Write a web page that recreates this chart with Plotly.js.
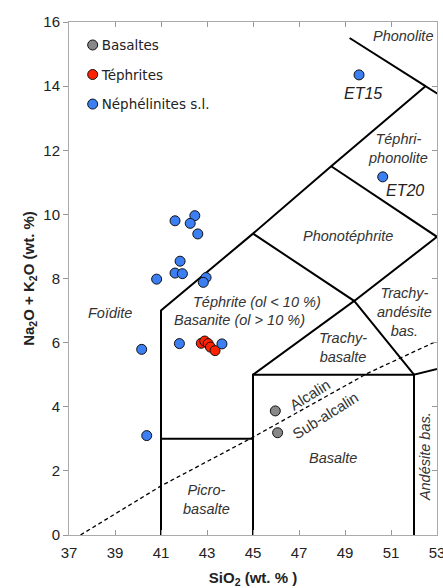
<!DOCTYPE html>
<html><head><meta charset="utf-8">
<script src="https://cdn.plot.ly/plotly-3.0.1.min.js"></script>
<style>html,body{margin:0;padding:0;background:#fff}#chart{width:443px;height:588px}</style>
</head><body><div id="chart"></div>
<script>
// Sample data (SiO2, Na2O+K2O)
const basaltesSiO2 = [45.97, 46.07];
const basaltesAlk  = [3.87, 3.19];
const tephritesSiO2 = [42.75, 42.9, 43.05, 43.15, 43.35];
const tephritesAlk  = [5.98, 6.05, 5.97, 5.86, 5.75];
const nephSiO2 = [41.61, 42.47, 42.27, 42.60, 41.83, 41.61, 41.93, 40.81, 42.96, 42.84, 40.16, 41.80, 43.65, 40.38, 49.61, 50.64];
const nephAlk  = [9.80, 9.96, 9.72, 9.39, 8.54, 8.17, 8.15, 7.98, 8.03, 7.88, 5.79, 5.97, 5.96, 3.10, 14.35, 11.17];

// TAS field boundaries (null separates segments)
const tasX = [41,41,45,48.4,52.5,57.6,null, 49.2,52.5,null, 48.4,53,null, 45,49.4,53,null, 45,49.4,52,57,null, 45,45,52,52,null, 41,45];
const tasY = [0,7,9.4,11.5,14,11.7,null, 15.5,14,null, 11.5,9.3,null, 9.4,7.3,9.3,null, 5,7.3,5,5.9,null, 0,5,5,0,null, 3,3];
// Alkaline / sub-alkaline divide
const divX = [37.5, 41, 45, 50, 53];
const divY = [0, 1.53, 3.05, 5.05, 6.05];

// Axis ticks
const xTicks = [37, 39, 41, 43, 45, 47, 49, 51, 53];
const yTicks = [0, 2, 4, 6, 8, 10, 12, 14, 16];

// Field labels
const fieldText = ['Phonolite','Téphri-<br>phonolite','Phonotéphrite','Téphrite (ol < 10 %)','Basanite (ol > 10 %)','Foïdite','Trachy-<br>andésite<br>bas.','Trachy-<br>basalte','Basalte','Picro-<br>basalte'];
const fieldX = [51.5, 51.3, 49.12, 45.17, 44.41, 38.78, 51.6, 48.93, 48.47, 42.96];
const fieldY = [15.57, 12.06, 9.34, 7.28, 6.71, 6.93, 6.96, 5.85, 2.39, 1.11];
const sampleText = ['ET15','ET20'];
const sampleX = [49.77, 51.6];
const sampleY = [13.78, 10.73];

const FF = 'Liberation Sans, Arial, sans-serif';
const lab = {family:FF, size:14.5, color:'#333'};
const annotations = [];
fieldText.forEach((t,i)=>annotations.push({x:fieldX[i],y:fieldY[i],text:'<i>'+t+'</i>',showarrow:false,font:lab,xref:'x',yref:'y'}));
sampleText.forEach((t,i)=>annotations.push({x:sampleX[i],y:sampleY[i],text:'<i>'+t+'</i>',showarrow:false,font:{family:FF,size:16,color:'#222'},xref:'x',yref:'y'}));
annotations.push({x:52.45,y:2.44,text:'<i>Andésite bas.</i>',textangle:-90,showarrow:false,font:lab});
annotations.push({x:47.48,y:4.37,text:'Alcalin',textangle:-32,showarrow:false,font:{family:FF,size:15,color:'#333'}});
annotations.push({x:48.13,y:3.74,text:'Sub-alcalin',textangle:-32,showarrow:false,font:{family:FF,size:15,color:'#333'}});

const mk = (c)=>({size:10,color:c,line:{color:'#111',width:1}});
const traces = [
  {x:tasX,y:tasY,mode:'lines',line:{color:'#000',width:2},showlegend:false,hoverinfo:'skip',connectgaps:false},
  {x:divX,y:divY,mode:'lines',line:{color:'#000',width:1.3,dash:'4px,3px'},showlegend:false,hoverinfo:'skip'},
  {x:basaltesSiO2,y:basaltesAlk,mode:'markers',name:'Basaltes',marker:mk('#888888'),legendgroup:'a'},
  {x:tephritesSiO2,y:tephritesAlk,mode:'markers',name:'Téphrites',marker:mk('#ff2200'),legendgroup:'b'},
  {x:nephSiO2,y:nephAlk,mode:'markers',name:'Néphélinites s.l.',marker:mk('#3c7ff2'),legendgroup:'c'},
  {x:[37],y:[0],xaxis:'x',yaxis:'y2',mode:'markers',marker:{opacity:0},showlegend:false,hoverinfo:'skip'}
];
const tickFont = {family:FF, size:15, color:'#222'};
const layout = {
  width:443,height:588,
  margin:{l:69,r:6,t:22,b:53},
  paper_bgcolor:'#fff',plot_bgcolor:'#fff',
  xaxis:{range:[37,53.0001],tickmode:'array',tickvals:xTicks,ticktext:xTicks.map(String),ticks:'inside',ticklen:5,tickcolor:'#999',showgrid:false,zeroline:false,
    showline:true,linecolor:'#aaa',linewidth:1,mirror:'ticks',tickfont:tickFont,ticklabeloverflow:'allow',ticklabelstandoff:4,
    title:{text:'<b>SiO<sub>2</sub> (wt. % )</b>',font:{family:FF,size:15,color:'#222'},standoff:14}},
  yaxis:{range:[0,16],tickmode:'array',tickvals:yTicks,ticktext:yTicks.map(String),ticks:'outside',ticklen:5,tickcolor:'#999',showgrid:false,zeroline:false,
    showline:true,linecolor:'#aaa',linewidth:1,mirror:true,tickfont:tickFont,
    title:{text:'<b>Na<sub>2</sub>O + K<sub>2</sub>O (wt. %)</b>',font:{family:FF,size:15,color:'#222'},standoff:5}},
  yaxis2:{range:[0,16],tickmode:'array',tickvals:yTicks,overlaying:'y',side:'right',ticks:'inside',ticklen:5,tickcolor:'#999',showticklabels:false,showgrid:false,zeroline:false,showline:false},
  showlegend:true,
  legend:{x:0.01,y:0.985,xanchor:'left',yanchor:'top',bgcolor:'rgba(0,0,0,0)',tracegroupgap:9,itemwidth:30,
    font:{family:'DejaVu Sans, sans-serif',size:13.5,color:'#222'}},
  annotations:annotations
};
Plotly.newPlot('chart',traces,layout,{staticPlot:true}).then(()=>{
  document.querySelectorAll('.legendtext').forEach(t=>t.setAttribute('x','29'));
});
</script></body></html>
